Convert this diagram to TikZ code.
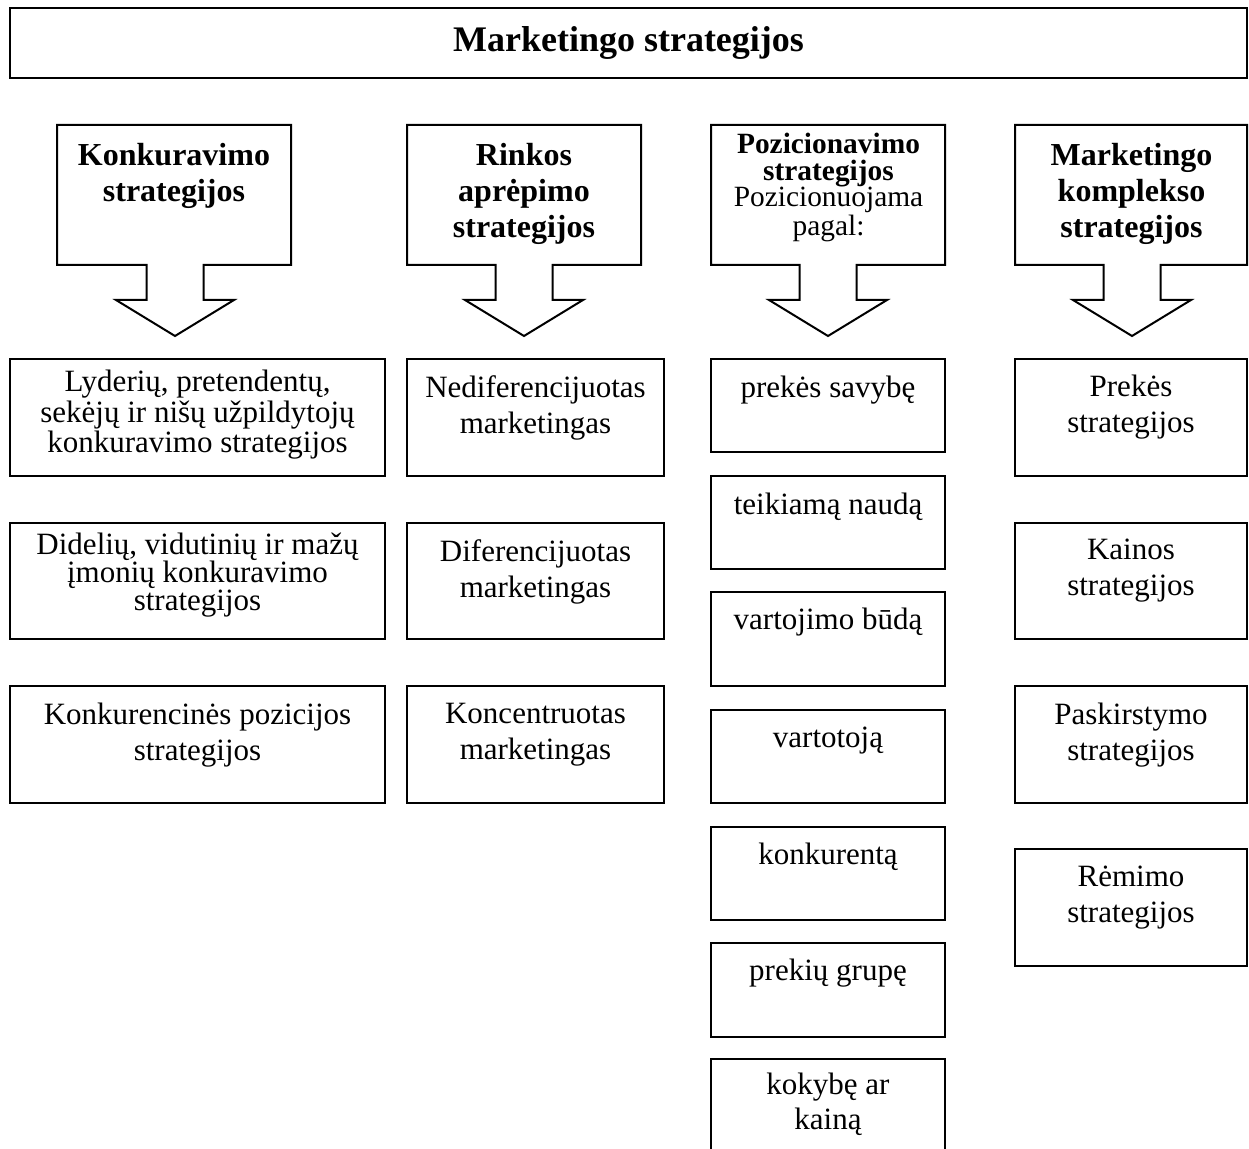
\documentclass[tikz,border=0pt]{standalone}
\usepackage{fontspec}
\setmainfont{Liberation Serif}
\usetikzlibrary{fit}
\begin{document}
\begin{tikzpicture}[x=0.5pt,y=-0.5pt,
  frame/.style={draw=black, line width=1pt},
  box/.style={frame, inner sep=0pt},
  txt/.style={inner sep=0pt, anchor=north, align=center,
    execute at begin node={\rule{0pt}{11pt}}},
  body/.style={txt, font=\fontsize{15.5}{18}\selectfont},
  tight/.style={txt, font=\fontsize{15.5}{14}\selectfont},
  head/.style={txt, font=\fontsize{16}{18}\selectfont\bfseries},
]
\useasboundingbox (0,0) rectangle (1249,1149);
\clip (0,0) rectangle (1249,1149);

% title
\node[box, fit={(10,8) (1247,78)}] (title) {};
\node[font=\fontsize{18}{20}\selectfont\bfseries] (titlet) at (title.center) {Marketingo strategijos};

% down-arrow callouts for the four strategy groups
\foreach \xl/\xr/\cx in {57/291/175, 407/641/524, 711/945/828, 1015/1247/1132}{
  \draw[frame] (\xl,125) -- (\xr,125) -- (\xr,265) -- ({\cx+28.5},265) -- ({\cx+28.5},300)
    -- ({\cx+59},300) -- (\cx,336) -- ({\cx-59},300) -- ({\cx-28.5},300) -- ({\cx-28.5},265)
    -- (\xl,265) -- cycle;
}
\node[head] (h1) at (174,143) {Konkuravimo\\strategijos};
\node[head] (h2) at (524,143) {Rinkos\\aprėpimo\\strategijos};
\node[txt, font=\fontsize{14.7}{13.3}\selectfont] (h3) at (828.5,133) {\textbf{Pozicionavimo}\\\textbf{strategijos}\\Pozicionuojama\\pagal:};
\node[head] (h4) at (1131.5,143) {Marketingo\\komplekso\\strategijos};

% column 1
\node[box, fit={(10,359) (385,476)}] (k1) {};
\node[tight] (k1t) at (197.5,370) {Lyderių, pretendentų,\\sekėjų ir nišų užpildytojų\\konkuravimo strategijos};
\node[box, fit={(10,523) (385,639)}] (k2) {};
\node[tight] (k2t) at (197.5,533) {Didelių, vidutinių ir mažų\\įmonių konkuravimo\\strategijos};
\node[box, fit={(10,686) (385,803)}] (k3) {};
\node[body] (k3t) at (197.5,703) {Konkurencinės pozicijos\\strategijos};

% column 2
\node[box, fit={(407,359) (664,476)}] (r1) {};
\node[body] (r1t) at (535.5,375) {Nediferencijuotas\\marketingas};
\node[box, fit={(407,523) (664,639)}] (r2) {};
\node[body] (r2t) at (535.5,539) {Diferencijuotas\\marketingas};
\node[box, fit={(407,686) (664,803)}] (r3) {};
\node[body] (r3t) at (535.5,703) {Koncentruotas\\marketingas};

% column 3
\node[box, fit={(711,359) (945,452)}] (p1) {};
\node[body] (p1t) at (828,375) {prekės savybę};
\node[box, fit={(711,476) (945,569)}] (p2) {};
\node[body] (p2t) at (828,492) {teikiamą naudą};
\node[box, fit={(711,592) (945,686)}] (p3) {};
\node[body] (p3t) at (828,607) {vartojimo būdą};
\node[box, fit={(711,710) (945,803)}] (p4) {};
\node[body] (p4t) at (828,725) {vartotoją};
\node[box, fit={(711,827) (945,920)}] (p5) {};
\node[body] (p5t) at (828,842) {konkurentą};
\node[box, fit={(711,943) (945,1037)}] (p6) {};
\node[body] (p6t) at (828,958) {prekių grupę};
\node[box, fit={(711,1059) (945,1180)}] (p7) {};
\node[txt, font=\fontsize{15.5}{17.5}\selectfont] (p7t) at (828,1073) {kokybę ar\\kainą};

% column 4
\node[box, fit={(1015,359) (1247,476)}] (m1) {};
\node[body] (m1t) at (1131,375) {Prekės\\strategijos};
\node[box, fit={(1015,523) (1247,639)}] (m2) {};
\node[body] (m2t) at (1131,539) {Kainos\\strategijos};
\node[box, fit={(1015,686) (1247,803)}] (m3) {};
\node[body] (m3t) at (1131,703) {Paskirstymo\\strategijos};
\node[box, fit={(1015,849) (1247,966)}] (m4) {};
\node[body] (m4t) at (1131,866) {Rėmimo\\strategijos};
\end{tikzpicture}
\end{document}
